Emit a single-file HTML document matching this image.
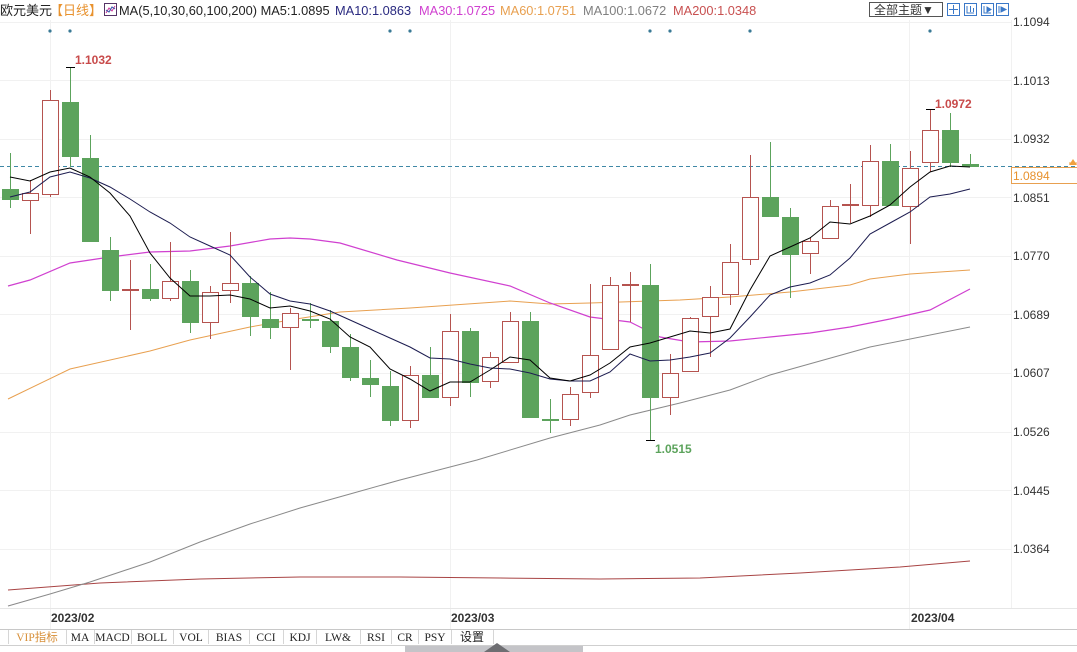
<!DOCTYPE html>
<html><head><meta charset="utf-8">
<style>
html,body{margin:0;padding:0;background:#fff;}
body{width:1077px;height:652px;overflow:hidden;position:relative;}
svg{position:absolute;left:0;top:0;}
</style></head>
<body>
<svg width="1077" height="652" viewBox="0 0 1077 652" xmlns="http://www.w3.org/2000/svg" font-family="'Liberation Sans','Noto Sans CJK SC',sans-serif">
<rect x="0" y="0" width="1077" height="652" fill="#fff"/>
<!-- grid -->
<g stroke="#f1f1f1" stroke-width="1">
<line x1="0" y1="22.5" x2="1011" y2="22.5"/>
<line x1="0" y1="80.5" x2="1011" y2="80.5"/>
<line x1="0" y1="139.5" x2="1011" y2="139.5"/>
<line x1="0" y1="197.5" x2="1011" y2="197.5"/>
<line x1="0" y1="256.5" x2="1011" y2="256.5"/>
<line x1="0" y1="314.5" x2="1011" y2="314.5"/>
<line x1="0" y1="373.5" x2="1011" y2="373.5"/>
<line x1="0" y1="432.5" x2="1011" y2="432.5"/>
<line x1="0" y1="490.5" x2="1011" y2="490.5"/>
<line x1="0" y1="549.5" x2="1011" y2="549.5"/>
<line x1="50.5" y1="20" x2="50.5" y2="629"/>
<line x1="450.5" y1="20" x2="450.5" y2="629"/>
<line x1="909.5" y1="20" x2="909.5" y2="629"/>
<line x1="1011.5" y1="20" x2="1011.5" y2="608"/>
</g>
<line x1="0" y1="608.5" x2="1077" y2="608.5" stroke="#e6e6e6"/>

<!-- header -->
<text x="0" y="15" font-size="13" fill="#222">欧元美元</text>
<text x="50" y="15" font-size="13" fill="#e8922e">【日线】</text>
<rect x="104.5" y="3.5" width="12" height="12" fill="#fff" stroke="#553366"/>
<polyline points="106,13 109,8 112,11 115,6" fill="none" stroke="#cc3399" stroke-width="1"/>
<polyline points="106,10 109,12 112,7 115,9" fill="none" stroke="#3355aa" stroke-width="1"/>
<text x="119" y="15" font-size="12.8" fill="#222">MA(5,10,30,60,100,200) MA5:1.0895</text>
<text x="335" y="15" font-size="12.8" fill="#2a2a80">MA10:1.0863</text>
<text x="419" y="15" font-size="12.8" fill="#d040d0">MA30:1.0725</text>
<text x="500" y="15" font-size="12.8" fill="#e8a050">MA60:1.0751</text>
<text x="583" y="15" font-size="12.8" fill="#808080">MA100:1.0672</text>
<text x="673" y="15" font-size="12.8" fill="#c85050">MA200:1.0348</text>

<!-- top right buttons -->
<rect x="869.5" y="2.5" width="73" height="14" fill="#fff" stroke="#555"/>
<text x="874" y="14" font-size="12" fill="#333">全部主题▼</text>
<g fill="#fff" stroke="#3a78c8">
<rect x="947.5" y="3.5" width="12" height="12"/>
<rect x="964.5" y="3.5" width="12" height="12"/>
<rect x="981.5" y="3.5" width="12" height="12"/>
<rect x="996.5" y="3.5" width="12" height="12"/>
</g>
<g stroke="#3a78c8" fill="none">
<line x1="953.5" y1="5" x2="953.5" y2="14"/><line x1="949" y1="9.5" x2="958" y2="9.5"/>
<polyline points="967,6 967,13 974,13"/><line x1="970.5" y1="6" x2="970.5" y2="12"/><line x1="973.5" y1="8" x2="973.5" y2="12"/>
<polyline points="984,6 984,13 991,13"/><polygon points="987,7 991,9.5 987,12" fill="#3a78c8"/>
<polyline points="999,6 999,13"/><polygon points="1001,7 1006,9.5 1001,12" fill="#3a78c8"/>
</g>

<!-- top dots -->
<g fill="#3a7a96">
<circle cx="50" cy="31" r="1.6"/><circle cx="70" cy="31" r="1.6"/>
<circle cx="390" cy="31" r="1.6"/><circle cx="410" cy="31" r="1.6"/>
<circle cx="650" cy="31" r="1.6"/><circle cx="670" cy="31" r="1.6"/>
<circle cx="750" cy="31" r="1.6"/><circle cx="930" cy="31" r="1.6"/>
</g>

<!-- y axis labels -->
<g font-size="12" fill="#333">
<text x="1013" y="26">1.1094</text>
<text x="1013" y="85">1.1013</text>
<text x="1013" y="143">1.0932</text>
<text x="1013" y="202">1.0851</text>
<text x="1013" y="260">1.0770</text>
<text x="1013" y="319">1.0689</text>
<text x="1013" y="377">1.0607</text>
<text x="1013" y="436">1.0526</text>
<text x="1013" y="495">1.0445</text>
<text x="1013" y="553">1.0364</text>
</g>

<!-- MA lines (back) -->
<polyline fill="none" stroke="#a84444" stroke-width="1" points="8,590 100,583 200,579 300,577 400,577 500,578 600,579 700,578 800,573 900,567 970,561"/>
<polyline fill="none" stroke="#8a8a8a" stroke-width="1" points="8,606 50,594 90,582 150,562 200,542 250,524 300,508 350,494 400,480 450,467 477,460 550,438 600,425 630,415 680,403 730,390 770,375 870,347 970,327"/>
<polyline fill="none" stroke="#e8a050" stroke-width="1" points="8,399 70,369 150,351 190,340 250,327 290,320 340,312 410,308 510,301 550,304 590,303 680,300 730,297 790,292 850,285 870,279 910,274 970,270"/>
<polyline fill="none" stroke="#d040d0" stroke-width="1.2" points="8,286 30,280 70,263 110,257 150,252 190,251 230,246 270,239 290,238 310,239 340,243 397,260 450,273 510,286 550,303 590,317 630,322 660,337 690,342 730,341 770,337 810,333 850,327 890,319 930,310 970,289"/>

<!-- current price dashed line -->
<line x1="0" y1="166.5" x2="1008" y2="166.5" stroke="#3f88a6" stroke-dasharray="4,3"/>
<line x1="1008" y1="166.5" x2="1077" y2="166.5" stroke="#3f88a6" stroke-dasharray="4,3"/>

<!-- candles -->
<g id="c">
<!-- green -->
<g stroke="#5ca35c" stroke-width="1">
<line x1="10.5" y1="153" x2="10.5" y2="208"/>
<line x1="70.5" y1="67" x2="70.5" y2="167"/>
<line x1="90.5" y1="135" x2="90.5" y2="242"/>
<line x1="110.5" y1="237" x2="110.5" y2="301"/>
<line x1="150.5" y1="264" x2="150.5" y2="301"/>
<line x1="190.5" y1="270" x2="190.5" y2="333"/>
<line x1="250.5" y1="276" x2="250.5" y2="336"/>
<line x1="270.5" y1="292" x2="270.5" y2="339"/>
<line x1="310.5" y1="303" x2="310.5" y2="328"/>
<line x1="330.5" y1="310" x2="330.5" y2="353"/>
<line x1="350.5" y1="334" x2="350.5" y2="381"/>
<line x1="370.5" y1="360" x2="370.5" y2="397"/>
<line x1="390.5" y1="371" x2="390.5" y2="426"/>
<line x1="430.5" y1="347" x2="430.5" y2="398"/>
<line x1="470.5" y1="328" x2="470.5" y2="397"/>
<line x1="530.5" y1="312" x2="530.5" y2="418"/>
<line x1="550.5" y1="399" x2="550.5" y2="433"/>
<line x1="650.5" y1="264" x2="650.5" y2="440"/>
<line x1="770.5" y1="142" x2="770.5" y2="217"/>
<line x1="790.5" y1="208" x2="790.5" y2="298"/>
<line x1="890.5" y1="144" x2="890.5" y2="206"/>
<line x1="950.5" y1="113" x2="950.5" y2="167"/>
<line x1="970.5" y1="154" x2="970.5" y2="167"/>
</g>
<g fill="#5ca35c">
<rect x="2" y="189" width="17" height="11"/>
<rect x="62" y="102" width="17" height="55"/>
<rect x="82" y="158" width="17" height="84"/>
<rect x="102" y="250" width="17" height="41"/>
<rect x="142" y="289" width="17" height="10"/>
<rect x="182" y="281" width="17" height="42"/>
<rect x="242" y="283" width="17" height="34"/>
<rect x="262" y="319" width="17" height="9"/>
<rect x="302" y="319" width="17" height="2"/>
<rect x="322" y="321" width="17" height="26"/>
<rect x="342" y="347" width="17" height="31"/>
<rect x="362" y="378" width="17" height="7"/>
<rect x="382" y="386" width="17" height="35"/>
<rect x="422" y="375" width="17" height="23"/>
<rect x="462" y="331" width="17" height="52"/>
<rect x="522" y="321" width="17" height="97"/>
<rect x="542" y="419" width="17" height="2"/>
<rect x="642" y="285" width="17" height="113"/>
<rect x="762" y="197" width="17" height="20"/>
<rect x="782" y="217" width="17" height="38"/>
<rect x="882" y="161" width="17" height="45"/>
<rect x="942" y="130" width="17" height="33"/>
<rect x="962" y="164" width="17" height="3"/>
</g>
<!-- red -->
<g stroke="#b5534f" stroke-width="1">
<line x1="30.5" y1="180" x2="30.5" y2="234"/>
<line x1="50.5" y1="90" x2="50.5" y2="197"/>
<line x1="130.5" y1="260" x2="130.5" y2="330"/>
<line x1="170.5" y1="242" x2="170.5" y2="301"/>
<line x1="210.5" y1="286" x2="210.5" y2="339"/>
<line x1="230.5" y1="232" x2="230.5" y2="303"/>
<line x1="290.5" y1="308" x2="290.5" y2="370"/>
<line x1="410.5" y1="366" x2="410.5" y2="428"/>
<line x1="450.5" y1="314" x2="450.5" y2="406"/>
<line x1="490.5" y1="352" x2="490.5" y2="388"/>
<line x1="510.5" y1="312" x2="510.5" y2="363"/>
<line x1="570.5" y1="387" x2="570.5" y2="426"/>
<line x1="590.5" y1="284" x2="590.5" y2="398"/>
<line x1="610.5" y1="277" x2="610.5" y2="350"/>
<line x1="630.5" y1="272" x2="630.5" y2="322"/>
<line x1="670.5" y1="354" x2="670.5" y2="415"/>
<line x1="690.5" y1="317" x2="690.5" y2="372"/>
<line x1="710.5" y1="286" x2="710.5" y2="357"/>
<line x1="730.5" y1="244" x2="730.5" y2="305"/>
<line x1="750.5" y1="155" x2="750.5" y2="265"/>
<line x1="810.5" y1="237" x2="810.5" y2="274"/>
<line x1="830.5" y1="200" x2="830.5" y2="239"/>
<line x1="850.5" y1="184" x2="850.5" y2="223"/>
<line x1="870.5" y1="145" x2="870.5" y2="217"/>
<line x1="910.5" y1="151" x2="910.5" y2="244"/>
<line x1="930.5" y1="109" x2="930.5" y2="172"/>
</g>
<g fill="#fff" stroke="#b5534f" stroke-width="1">
<rect x="22.5" y="193.5" width="16" height="7"/>
<rect x="42.5" y="100.5" width="16" height="94"/>
<rect x="162.5" y="281.5" width="16" height="17"/>
<rect x="202.5" y="292.5" width="16" height="30"/>
<rect x="222.5" y="283.5" width="16" height="7"/>
<rect x="282.5" y="313.5" width="16" height="14"/>
<rect x="402.5" y="375.5" width="16" height="45"/>
<rect x="442.5" y="331.5" width="16" height="66"/>
<rect x="482.5" y="357.5" width="16" height="24"/>
<rect x="502.5" y="321.5" width="16" height="41"/>
<rect x="562.5" y="394.5" width="16" height="25"/>
<rect x="582.5" y="355.5" width="16" height="37"/>
<rect x="602.5" y="285.5" width="16" height="64"/>
<rect x="662.5" y="373.5" width="16" height="24"/>
<rect x="682.5" y="318.5" width="16" height="53"/>
<rect x="702.5" y="297.5" width="16" height="19"/>
<rect x="722.5" y="262.5" width="16" height="32"/>
<rect x="742.5" y="197.5" width="16" height="62"/>
<rect x="802.5" y="241.5" width="16" height="12"/>
<rect x="822.5" y="206.5" width="16" height="32"/>
<rect x="862.5" y="161.5" width="16" height="44"/>
<rect x="902.5" y="168.5" width="16" height="38"/>
<rect x="922.5" y="130.5" width="16" height="32"/>
</g>
<g fill="#b5534f">
<rect x="122" y="289" width="17" height="2"/>
<rect x="622" y="284" width="17" height="2"/>
<rect x="842" y="204" width="17" height="2"/>
</g>
</g>

<!-- MA5 / MA10 -->
<polyline fill="none" stroke="#1c1c50" stroke-width="1" points="10,197 30,192 50,177 70,172 90,178 110,187 130,199 150,212 170,223 190,237 210,246 230,255 250,277 270,294 290,301 310,304 330,311 350,320 370,329 390,338 410,347 430,358 450,359 470,364 490,368 510,369 530,373 550,379 570,381 590,381 610,372 630,354 650,361 670,360 690,357 710,353 730,338 750,317 770,295 790,287 810,283 830,275 850,258 870,234 890,223 910,212 930,197 950,194 970,189"/>
<polyline fill="none" stroke="#000" stroke-width="1" points="10,177 30,181 50,172 70,168 90,177 110,193 130,216 150,253 170,278 190,296 210,296 230,295 250,299 270,308 290,306 310,311 330,319 350,337 370,347 390,369 410,379 430,391 450,382 470,382 490,370 510,357 530,360 550,378 570,381 590,375 610,363 630,347 650,343 670,337 690,331 710,333 730,329 750,290 770,256 790,247 810,238 830,222 850,224 870,216 890,205 910,187 930,172 950,166 970,167"/>

<!-- extreme markers -->
<g stroke="#000" stroke-width="1">
<line x1="66" y1="67.5" x2="75" y2="67.5"/>
<line x1="926" y1="109.5" x2="935" y2="109.5"/>
<line x1="646" y1="440.5" x2="655" y2="440.5"/>
</g>
<text x="75" y="64" font-size="12" font-weight="bold" fill="#c84a4a">1.1032</text>
<text x="935" y="108" font-size="12" font-weight="bold" fill="#c84a4a">1.0972</text>
<text x="655" y="453" font-size="12" font-weight="bold" fill="#5ca35c">1.0515</text>

<!-- current price box -->
<rect x="1011.5" y="167.5" width="70" height="16" fill="#fff" stroke="#e8a050"/>
<text x="1013" y="180" font-size="12" fill="#e8922e">1.0894</text>
<polygon points="1069,165 1073,159 1077,165" fill="#f0a040"/>
<line x1="1069" y1="163" x2="1077" y2="163" stroke="#f0a040"/>

<!-- date axis -->
<g font-size="12" font-weight="bold" fill="#333">
<text x="51" y="622">2023/02</text>
<text x="451" y="622">2023/03</text>
<text x="911" y="622">2023/04</text>
</g>
<line x1="0" y1="629.5" x2="1077" y2="629.5" stroke="#c8c8c8"/>

<!-- tabs -->
<g stroke="#d6d6d6" stroke-width="1">
<line x1="8.5" y1="630" x2="8.5" y2="644"/>
<line x1="66.5" y1="630" x2="66.5" y2="644"/>
<line x1="94.5" y1="630" x2="94.5" y2="644"/>
<line x1="131.5" y1="630" x2="131.5" y2="644"/>
<line x1="173.5" y1="630" x2="173.5" y2="644"/>
<line x1="208.5" y1="630" x2="208.5" y2="644"/>
<line x1="249.5" y1="630" x2="249.5" y2="644"/>
<line x1="283.5" y1="630" x2="283.5" y2="644"/>
<line x1="316.5" y1="630" x2="316.5" y2="644"/>
<line x1="360.5" y1="630" x2="360.5" y2="644"/>
<line x1="391.5" y1="630" x2="391.5" y2="644"/>
<line x1="418.5" y1="630" x2="418.5" y2="644"/>
<line x1="451.5" y1="630" x2="451.5" y2="644"/>
<line x1="493.5" y1="630" x2="493.5" y2="644"/>
</g>
<g font-family="'Liberation Serif','Noto Serif CJK SC',serif" font-size="11.5" fill="#222" text-anchor="middle">
<text x="37" y="641" fill="#d8903a" font-family="'Liberation Serif','Noto Sans CJK SC',serif">VIP指标</text>
<text x="80" y="641">MA</text>
<text x="112.5" y="641">MACD</text>
<text x="152" y="641">BOLL</text>
<text x="191" y="641">VOL</text>
<text x="229" y="641">BIAS</text>
<text x="266" y="641">CCI</text>
<text x="300" y="641">KDJ</text>
<text x="338" y="641">LW&amp;</text>
<text x="376" y="641">RSI</text>
<text x="405" y="641">CR</text>
<text x="435" y="641">PSY</text>
<text x="472" y="641" font-family="'Liberation Sans','Noto Sans CJK SC',sans-serif" font-size="12">设置</text>
</g>
<line x1="0" y1="645.5" x2="1077" y2="645.5" stroke="#cfcfcf"/>
<rect x="405" y="646" width="178" height="6" fill="#c4c4c8"/>
<polygon points="484,652 497,643 510,652" fill="#6e6e72"/>
</svg>
</body></html>
